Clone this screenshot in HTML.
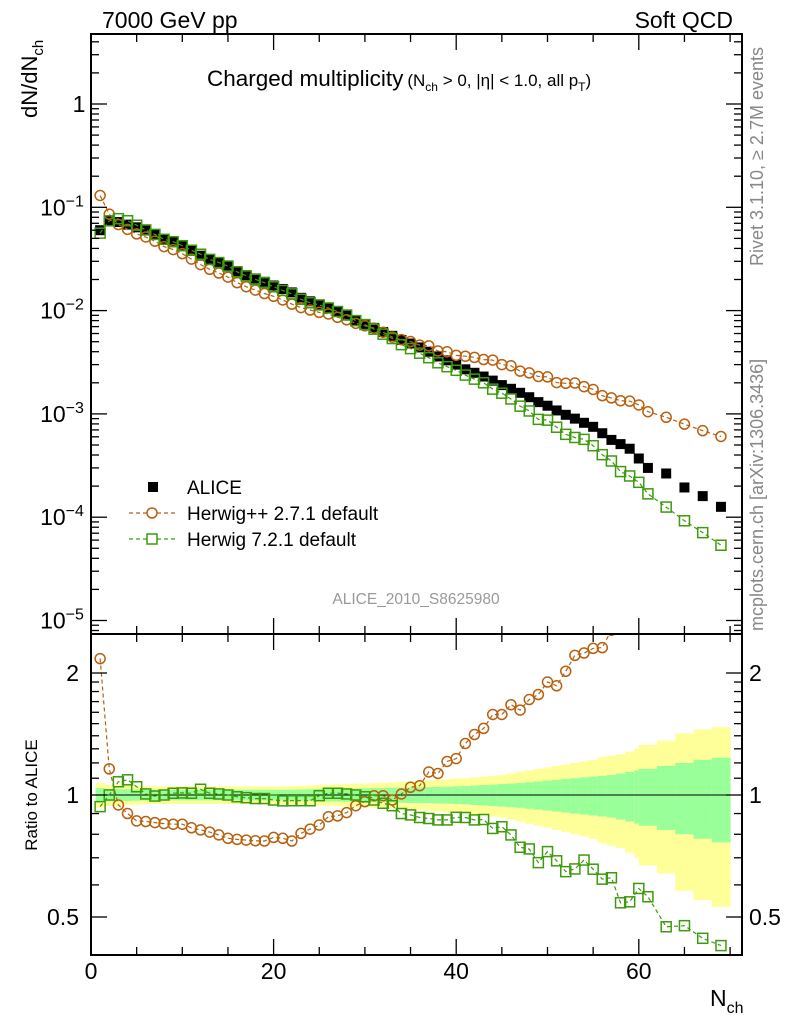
<!DOCTYPE html>
<html><head><meta charset="utf-8"><style>
html,body{margin:0;padding:0;background:#fff;}
svg{display:block;font-family:"Liberation Sans",sans-serif;}
</style></head><body>
<svg id="chart" width="786" height="1024" viewBox="0 0 786 1024" xmlns="http://www.w3.org/2000/svg">
<defs>
<clipPath id="clipMain"><rect x="91" y="34" width="651" height="600"/></clipPath>
<clipPath id="clipRatio"><rect x="91" y="634" width="651" height="321"/></clipPath>
</defs>
<g id="bands" clip-path="url(#clipRatio)"></g>
<g id="series-main" clip-path="url(#clipMain)"></g>
<g id="series-ratio" clip-path="url(#clipRatio)"></g>
<g id="axes"></g>
<text x="102" y="28" font-size="23">7000 GeV pp</text>
<text x="733" y="28" font-size="23" text-anchor="end">Soft QCD</text>
<text x="207" y="86" font-size="22.5">Charged multiplicity<tspan font-size="17" dx="4">(N</tspan><tspan font-size="12" dy="5">ch</tspan><tspan font-size="17" dy="-5"> &gt; 0, |η| &lt; 1.0, all p</tspan><tspan font-size="12" dy="5">T</tspan><tspan font-size="17" dy="-5">)</tspan></text>
<text transform="translate(37,118) rotate(-90)" font-size="22">dN/dN<tspan font-size="15" dy="6">ch</tspan></text>
<text transform="translate(37,795) rotate(-90)" font-size="17" text-anchor="middle">Ratio to ALICE</text>
<text x="710" y="1006" font-size="23">N<tspan font-size="16" dy="7">ch</tspan></text>
<text transform="translate(763,266) rotate(-90)" font-size="18" fill="#888">Rivet 3.1.10, ≥ 2.7M events</text>
<text transform="translate(763,631) rotate(-90)" font-size="18" fill="#888">mcplots.cern.ch [arXiv:1306.3436]</text>
<text x="416" y="604" font-size="15.5" fill="#999" text-anchor="middle">ALICE_2010_S8625980</text>
<g>
 <rect x="148" y="482" width="10" height="10" fill="#000"/>
 <text x="187" y="494" font-size="19">ALICE</text>
 <line x1="129" y1="513" x2="175" y2="513" stroke="#b8600f" stroke-width="1.2" stroke-dasharray="4,3"/>
 <circle cx="152" cy="513" r="5" fill="#fff" stroke="#b8600f" stroke-width="1.5"/>
 <text x="187" y="520" font-size="19">Herwig++ 2.7.1 default</text>
 <line x1="129" y1="539" x2="175" y2="539" stroke="#3d9a0d" stroke-width="1.2" stroke-dasharray="4,3"/>
 <rect x="147" y="534" width="10" height="10" fill="#fff" stroke="#3d9a0d" stroke-width="1.5"/>
 <text x="187" y="546" font-size="19">Herwig 7.2.1 default</text>
</g>
<script>
const nch = [1,2,3,4,5,6,7,8,9,10,11,12,13,14,15,16,17,18,19,20,21,22,23,24,25,26,27,28,29,30,31,32,33,34,35,36,37,38,39,40,41,42,43,44,45,46,47,48,49,50,51,52,53,54,55,56,57,58,59,60,61,63,65,67,69];
const binHalf = [0.5,0.5,0.5,0.5,0.5,0.5,0.5,0.5,0.5,0.5,0.5,0.5,0.5,0.5,0.5,0.5,0.5,0.5,0.5,0.5,0.5,0.5,0.5,0.5,0.5,0.5,0.5,0.5,0.5,0.5,0.5,0.5,0.5,0.5,0.5,0.5,0.5,0.5,0.5,0.5,0.5,0.5,0.5,0.5,0.5,0.5,0.5,0.5,0.5,0.5,0.5,0.5,0.5,0.5,0.5,0.5,0.5,0.5,0.5,0.5,1,1,1,1,1];
const alice = [0.060,0.074,0.072,0.068,0.064,0.060,0.055,0.049,0.046,0.042,0.038,0.034,0.031,0.029,0.027,0.024,0.022,0.0205,0.019,0.0175,0.0162,0.015,0.0133,0.0123,0.0114,0.0105,0.0097,0.0090,0.0080,0.0074,0.0068,0.0062,0.0057,0.0052,0.0048,0.0044,0.0040,0.0036,0.0033,0.0030,0.0027,0.0025,0.0023,0.0021,0.0019,0.00175,0.0016,0.00145,0.0013,0.0012,0.00108,0.00098,0.00090,0.00082,0.00075,0.00065,0.00056,0.00051,0.00046,0.00037,0.00030,0.000265,0.000194,0.00016,0.000126];
const ratioHerwigPP = [2.17,1.16,0.945,0.90,0.863,0.86,0.855,0.85,0.847,0.847,0.83,0.82,0.81,0.797,0.782,0.777,0.774,0.771,0.77,0.786,0.782,0.77,0.804,0.824,0.843,0.884,0.888,0.905,0.941,0.963,0.996,0.996,0.972,1.006,1.045,1.054,1.14,1.13,1.21,1.23,1.34,1.41,1.46,1.58,1.58,1.67,1.62,1.72,1.77,1.90,1.86,2.02,2.21,2.24,2.30,2.31,2.55,2.63,2.89,3.3,3.5,3.5,4.1,4.3,4.8];
const ratioHerwig7 = [0.936,1.0,1.078,1.09,1.048,1.006,0.994,1.0,1.01,1.012,1.01,1.033,1.01,1.006,1.0,0.99,0.985,0.98,0.98,0.972,0.967,0.968,0.968,0.968,0.996,1.01,1.01,1.006,1.0,0.99,0.972,0.954,0.941,0.90,0.893,0.88,0.875,0.868,0.868,0.881,0.88,0.868,0.87,0.827,0.835,0.797,0.743,0.736,0.681,0.725,0.688,0.647,0.657,0.691,0.656,0.62,0.625,0.542,0.545,0.588,0.561,0.473,0.476,0.443,0.425];
const errTotal = [0.07,0.06,0.06,0.055,0.055,0.05,0.05,0.05,0.05,0.05,0.05,0.05,0.05,0.05,0.05,0.05,0.05,0.05,0.05,0.05,0.05,0.052,0.054,0.056,0.058,0.06,0.062,0.064,0.066,0.068,0.07,0.072,0.075,0.078,0.08,0.083,0.086,0.09,0.094,0.098,0.10,0.105,0.11,0.115,0.12,0.13,0.14,0.15,0.16,0.17,0.18,0.19,0.2,0.21,0.22,0.24,0.25,0.26,0.28,0.30,0.33,0.36,0.42,0.45,0.47];
const errStat = [0.04,0.035,0.035,0.033,0.032,0.03,0.03,0.03,0.03,0.03,0.03,0.03,0.03,0.03,0.03,0.03,0.03,0.03,0.03,0.03,0.03,0.031,0.032,0.033,0.034,0.035,0.036,0.037,0.038,0.039,0.04,0.041,0.042,0.043,0.044,0.045,0.046,0.047,0.048,0.05,0.052,0.055,0.058,0.061,0.064,0.067,0.07,0.075,0.08,0.085,0.09,0.095,0.1,0.105,0.11,0.115,0.12,0.13,0.14,0.15,0.16,0.18,0.2,0.22,0.236];
const xTicksMajor = [0,20,40,60];
const yMainTickLabels = ["1","10","10","10","10","10"];
const yMainExps = [0,-1,-2,-3,-4,-5];
const ratioTickLabels = ["0.5","1","2"];
const ratioTickValues = [0.5,1,2];

const NS='http://www.w3.org/2000/svg';
const X0=91, XS=9.13, XR=742;
function xPos(n){return X0+n*XS;}
function yMain(v){return 104-103.3*Math.log10(v);}
function yRatio(r){return 795-122*Math.log2(r);}
function mk(tag,attrs,parent){const e=document.createElementNS(NS,tag);for(const k in attrs)e.setAttribute(k,attrs[k]);parent.appendChild(e);return e;}
const C_PP='#b8600f', C_H7='#3d9a0d';

const bands=document.getElementById('bands');
nch.forEach((n,i)=>{
  const x1=xPos(n-binHalf[i]), x2=xPos(n+binHalf[i]);
  const y=mk('rect',{x:x1,y:yRatio(1+errTotal[i]),width:x2-x1+0.5,height:yRatio(1-errTotal[i])-yRatio(1+errTotal[i]),fill:'#ffff99'},bands);
  
  
  const g=mk('rect',{x:x1,y:yRatio(1+errStat[i]),width:x2-x1+0.5,height:yRatio(1-errStat[i])-yRatio(1+errStat[i]),fill:'#99ff99'},bands);
  
  
});
const one=mk('line',{x1:X0,x2:XR,y1:yRatio(1),y2:yRatio(1),stroke:'#000','stroke-width':1},bands);



const sm=document.getElementById('series-main');
const sr=document.getElementById('series-ratio');
function drawMC(parent, yfn, vals, color, kind, name){
  const pts=nch.map((n,i)=>xPos(n)+','+yfn(vals[i]).toFixed(1)).join(' ');
  const pl=mk('polyline',{points:pts,fill:'none',stroke:color,'stroke-width':1.2,'stroke-dasharray':'4,3'},parent);
  
  
  nch.forEach((n,i)=>{
    const cx=xPos(n), cy=yfn(vals[i]);
    let m;
    if(kind==='circle') m=mk('circle',{cx:cx,cy:cy,r:5,fill:'none',stroke:color,'stroke-width':1.5},parent);
    else m=mk('rect',{x:cx-5,y:cy-5,width:10,height:10,fill:'none',stroke:color,'stroke-width':1.5},parent);
    
    
  });
}
nch.forEach((n,i)=>{
  const r=mk('rect',{x:xPos(n)-5,y:yMain(alice[i])-5,width:10,height:10,fill:'#000'},sm);
  
  
});
drawMC(sm, yMain, alice.map((a,i)=>a*ratioHerwigPP[i]), C_PP,'circle','herwigpp');
drawMC(sm, yMain, alice.map((a,i)=>a*ratioHerwig7[i]), C_H7,'square','herwig7');
drawMC(sr, yRatio, ratioHerwigPP, C_PP,'circle','herwigpp-ratio');
drawMC(sr, yRatio, ratioHerwig7, C_H7,'square','herwig7-ratio');

const ax=document.getElementById('axes');
const f1=mk('rect',{x:X0,y:34,width:XR-X0,height:600,fill:'none',stroke:'#000','stroke-width':2},ax);


const f2=mk('rect',{x:X0,y:634,width:XR-X0,height:321,fill:'none',stroke:'#000','stroke-width':2},ax);


for(let n=0;n<=70;n+=5){
  const major=n%20===0, L=major?16:8, x=xPos(n);
  [[34,1],[634,-1],[634,1],[955,-1]].forEach(([y0,d])=>mk('line',{x1:x,x2:x,y1:y0,y2:y0+d*L,stroke:'#000','stroke-width':1.3},ax));
}
xTicksMajor.forEach(n=>{
  const t=mk('text',{x:xPos(n),y:979,'font-size':23,'text-anchor':'middle'},ax);
  t.textContent=String(n);
  
  
});
for(let e=1;e>=-6;e--){
  for(let k=1;k<=9;k++){
    const v=k*Math.pow(10,e), y=yMain(v);
    if(y<35||y>633) continue;
    const L=k===1?16:8;
    mk('line',{x1:X0,x2:X0+L,y1:y,y2:y,stroke:'#000','stroke-width':1.3},ax);
    mk('line',{x1:XR,x2:XR-L,y1:y,y2:y,stroke:'#000','stroke-width':1.3},ax);
  }
}
yMainExps.forEach((e,i)=>{
  const t=mk('text',{x:e===0?79:62,y:yMain(Math.pow(10,e))+8,'font-size':23,'text-anchor':'middle'},ax);
  
  
  t.textContent=yMainTickLabels[i];
  if(e!==0){
    const s=document.createElementNS(NS,'tspan');s.setAttribute('font-size','16');s.setAttribute('dy','-9');s.textContent='−'+(-e);t.appendChild(s);
  }
});
[0.4,0.5,0.6,0.7,0.8,0.9,1,1.1,1.2,1.3,1.4,1.5,1.6,1.7,1.8,1.9,2].forEach(v=>{
  const y=yRatio(v); if(y<635||y>954) return;
  const L=(v===0.5||v===1||v===2)?16:8;
  mk('line',{x1:X0,x2:X0+L,y1:y,y2:y,stroke:'#000','stroke-width':1.3},ax);
  mk('line',{x1:XR,x2:XR-L,y1:y,y2:y,stroke:'#000','stroke-width':1.3},ax);
});
ratioTickValues.forEach((v,i)=>{
  const y=yRatio(v)+8;
  const t=mk('text',{x:79,y:y,'font-size':23,'text-anchor':'end'},ax);
  t.textContent=ratioTickLabels[i];
  
  
  const t2=mk('text',{x:749,y:y,'font-size':23},ax);
  t2.textContent=ratioTickLabels[i];
  
  
});
</script>
</svg>
</body></html>
